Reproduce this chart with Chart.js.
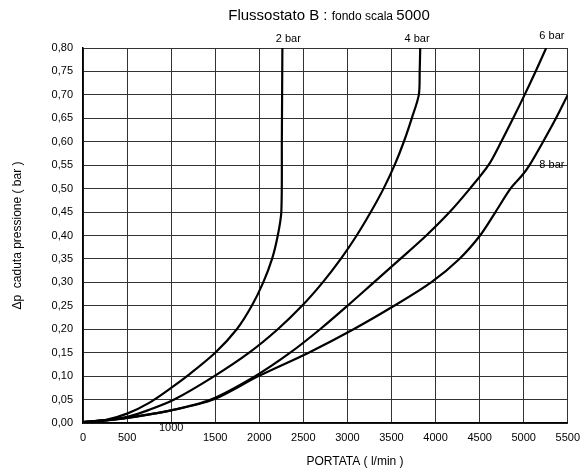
<!DOCTYPE html>
<html lang="it">
<head>
    <meta charset="UTF-8">
    <title>Flussostato B</title>
    <script src="https://cdn.jsdelivr.net/npm/chart.js"></script>
    <style>
        body {
            margin: 0;
            background: #fff;
        }
        #wrap {
            width: 588px;
            height: 470px;
        }
    </style>
</head>
<body>
    <div id="wrap"><canvas id="flowChart" width="588" height="470"></canvas></div>

    <script>
        // curve data: portata (l/min) and caduta (bar)
        const flow2 = [0, 250, 500, 750, 1000, 1180, 1500, 1745, 1915, 2045, 2145, 2210, 2250, 2256, 2262];
        const drop2 = [0.002, 0.006, 0.02, 0.043, 0.075, 0.10, 0.15, 0.20, 0.25, 0.30, 0.35, 0.40, 0.45, 0.60, 0.80];

        const flow4 = [0, 250, 500, 750, 1035, 1490, 1885, 2210, 2485, 2720, 2925, 3105, 3265, 3410, 3535, 3640, 3730, 3810, 3820, 3826];
        const drop4 = [0.002, 0.005, 0.013, 0.028, 0.05, 0.10, 0.15, 0.20, 0.25, 0.30, 0.35, 0.40, 0.45, 0.50, 0.55, 0.60, 0.65, 0.70, 0.75, 0.80];

        const flow6 = [0, 250, 500, 1000, 1450, 1954, 2351, 2690, 3000, 3300, 3600, 3895, 4160, 4390, 4600, 4745, 4880, 5010, 5135, 5255];
        const drop6 = [0.002, 0.006, 0.011, 0.027, 0.05, 0.10, 0.15, 0.20, 0.25, 0.30, 0.35, 0.40, 0.45, 0.50, 0.55, 0.60, 0.65, 0.70, 0.75, 0.80];

        const flow8 = [0, 250, 500, 1000, 1480, 1991, 2560, 3070, 3530, 3950, 4270, 4505, 4680, 4850, 4990, 5066, 5220, 5366, 5500];
        const drop8 = [0.002, 0.006, 0.011, 0.027, 0.05, 0.10, 0.15, 0.20, 0.25, 0.30, 0.35, 0.40, 0.45, 0.50, 0.53, 0.55, 0.60, 0.65, 0.70];

        // curve labels (position in data units)
        const curveNames = ['2 bar', '4 bar', '6 bar', '8 bar'];
        const labelFlow = [2330, 3790, 5320, 5320];
        const labelDrop = [0.819, 0.819, 0.825, 0.55];

        const xMax = 5500, xStep = 500;
        const yMax = 0.8, yStep = 0.05;
        const raisedTick = 1000; // this one sits higher in the original

        const FONT = '"Liberation Sans", Arial, Helvetica, sans-serif';

        function toPoints(xs, ys) {
            return xs.map((x, i) => ({ x: x, y: ys[i] }));
        }

        const curves = [
            toPoints(flow2, drop2),
            toPoints(flow4, drop4),
            toPoints(flow6, drop6),
            toPoints(flow8, drop8)
        ];

        // title with mixed sizes, curve labels, the raised 1000 label, x title
        const extraText = {
            id: 'extraText',
            afterDraw(chart) {
                const ctx = chart.ctx;
                const xs = chart.scales.x, ys = chart.scales.y;
                ctx.save();
                ctx.fillStyle = '#000';

                // title
                const parts = [
                    ['Flussostato B : ', '15px ' + FONT],
                    ['fondo scala ', '12px ' + FONT],
                    ['5000', '15px ' + FONT]
                ];
                let total = 0;
                parts.forEach(p => { ctx.font = p[1]; total += ctx.measureText(p[0]).width; });
                let tx = 329 - total / 2;
                ctx.textBaseline = 'alphabetic';
                ctx.textAlign = 'left';
                parts.forEach(p => {
                    ctx.font = p[1];
                    ctx.fillText(p[0], tx, 20);
                    tx += ctx.measureText(p[0]).width;
                });

                // curve names
                ctx.font = '11px ' + FONT;
                ctx.textAlign = 'center';
                ctx.textBaseline = 'middle';
                curveNames.forEach((name, i) => {
                    ctx.fillText(name, xs.getPixelForValue(labelFlow[i]), ys.getPixelForValue(labelDrop[i]));
                });

                // raised tick label
                ctx.fillText(String(raisedTick), xs.getPixelForValue(raisedTick), 428);

                // x axis title
                ctx.font = '12px ' + FONT;
                ctx.fillText('PORTATA ( l/min )', 355, 462);
                ctx.restore();
            }
        };

        new Chart(document.getElementById('flowChart'), {
            type: 'line',
            data: {
                datasets: curves.map((pts, i) => ({
                    label: curveNames[i],
                    data: pts,
                    borderColor: '#000',
                    borderWidth: 2.2,
                    pointRadius: 0,
                    fill: false,
                    tension: 0.3
                }))
            },
            options: {
                responsive: false,
                animation: false,
                layout: { padding: { top: 48, right: 16, bottom: 0, left: 0 } },
                plugins: {
                    legend: { display: false },
                    tooltip: { enabled: false },
                    title: { display: false }
                },
                scales: {
                    x: {
                        type: 'linear',
                        min: 0,
                        max: xMax,
                        afterFit: s => { s.height = 47; },
                        ticks: {
                            stepSize: xStep,
                            padding: 8,
                            color: '#000',
                            font: { family: FONT, size: 11 },
                            maxRotation: 0,
                            autoSkip: false,
                            callback: v => (v === raisedTick ? '' : String(v))
                        },
                        grid: { color: '#333', lineWidth: 1, drawTicks: false },
                        border: { color: '#000', width: 1.5 }
                    },
                    y: {
                        min: 0,
                        max: yMax,
                        afterFit: s => { s.width = 83; },
                        ticks: {
                            stepSize: yStep,
                            padding: 10,
                            color: '#000',
                            font: { family: FONT, size: 11 },
                            callback: v => v.toFixed(2).replace('.', ',')
                        },
                        grid: { color: '#333', lineWidth: 1, drawTicks: false },
                        border: { color: '#000', width: 1.5 },
                        title: {
                            display: true,
                            text: 'Δp  caduta pressione ( bar )',
                            color: '#000',
                            font: { family: FONT, size: 12 },
                            padding: { top: 10, bottom: 0 }
                        }
                    }
                }
            },
            plugins: [extraText]
        });
    </script>
</body>
</html>
